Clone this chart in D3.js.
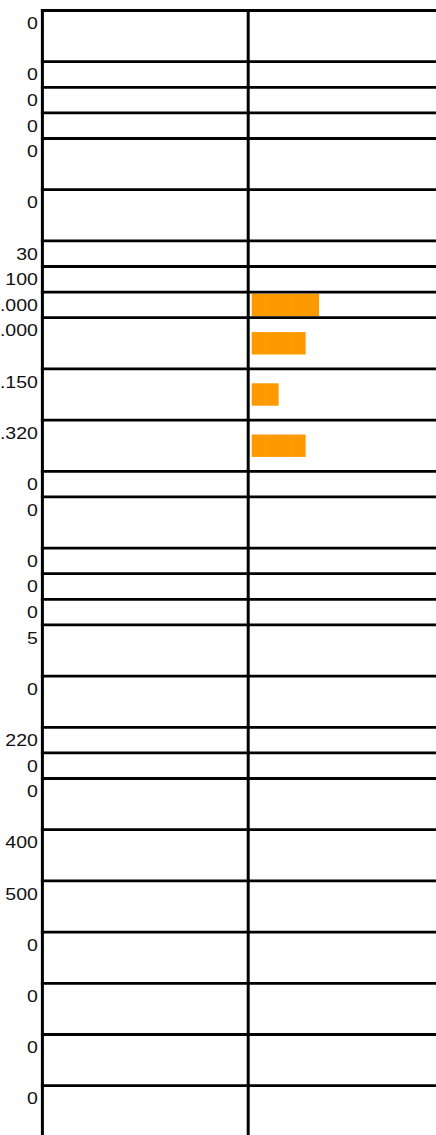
<!DOCTYPE html>
<html>
<head>
<meta charset="utf-8">
<script src="https://cdn.jsdelivr.net/npm/d3@7"></script>
<style>
  html, body { margin: 0; padding: 0; background: #fff; overflow: hidden; }
  svg { display: block; }
  text { font-family: "Liberation Sans", Arial, Helvetica, sans-serif; }
</style>
</head>
<body>
<script>
// ---- data ----
const labels = ["0","0","0","0","0","0","30","100","5.000","4.000","2.150","4.320","0","0","0","0","0","5","0","220","0","0","400","500","0","0","0","0"];
// number of text lines each row occupies (row height in units)
const rowLines = [2,1,1,1,2,2,1,1,1,2,2,2,1,2,1,1,1,2,2,1,1,2,2,2,2,2,2,2];
// unit blocks drawn in the right column
const blocks = [0,0,0,0,0,0,0,0,5,4,2,4,0,0,0,0,0,0,0,0,0,0,0,0,0,0,0,0];
const blockDomain = [0, 10];

// ---- layout ----
const W = 436, H = 1135;
const svg = d3.select("body").append("svg").attr("width", W).attr("height", H);

const starts = [];
let acc = 0;
rowLines.forEach(n => { starts.push(acc); acc += n; });
const totalUnits = acc;

const y = d3.scaleLinear().domain([0, totalUnits]).range([10.5, 10.5 + totalUnits * 25.6]);
const x = d3.scaleLinear().domain(blockDomain).range([251.7, 251.7 + 134.8]);

const leftX = 42.4, midX = 248.2;

const rows = labels.map((l, i) => ({
  label: l, top: y(starts[i]), bottom: y(starts[i] + rowLines[i]), blocks: blocks[i]
}));

// bars (unit blocks)
const bars = [];
rows.forEach(r => {
  for (let k = 0; k < r.blocks; k++) bars.push({ k, r, last: k === r.blocks - 1 });
});
svg.append("g").selectAll("rect").data(bars).join("rect")
  .attr("x", d => x(d.k))
  .attr("width", d => x(d.k + 1) - x(d.k) + (d.last ? 0 : 0.35))
  .attr("y", d => (d.r.top + d.r.bottom) / 2 - 11.2)
  .attr("height", 22.4)
  .attr("fill", "#ff9900");

// horizontal lines
svg.append("g").selectAll("line").data(rows).join("line")
  .attr("x1", leftX - 1.5).attr("x2", W)
  .attr("y1", d => d.top).attr("y2", d => d.top)
  .attr("stroke", "#000").attr("stroke-width", 2.8);

// vertical lines
svg.append("g").selectAll("line").data([leftX, midX]).join("line")
  .attr("x1", d => d).attr("x2", d => d)
  .attr("y1", 9).attr("y2", H)
  .attr("stroke", "#000").attr("stroke-width", 3);

// labels
svg.append("g").selectAll("text").data(rows).join("text")
  .attr("transform", d => `translate(37.9,${d.top + 18.7}) scale(1.22,1)`)
  .attr("text-anchor", "end")
  .attr("font-size", 16)
  .attr("fill", "#111")
  .text(d => d.label);
</script>
</body>
</html>
